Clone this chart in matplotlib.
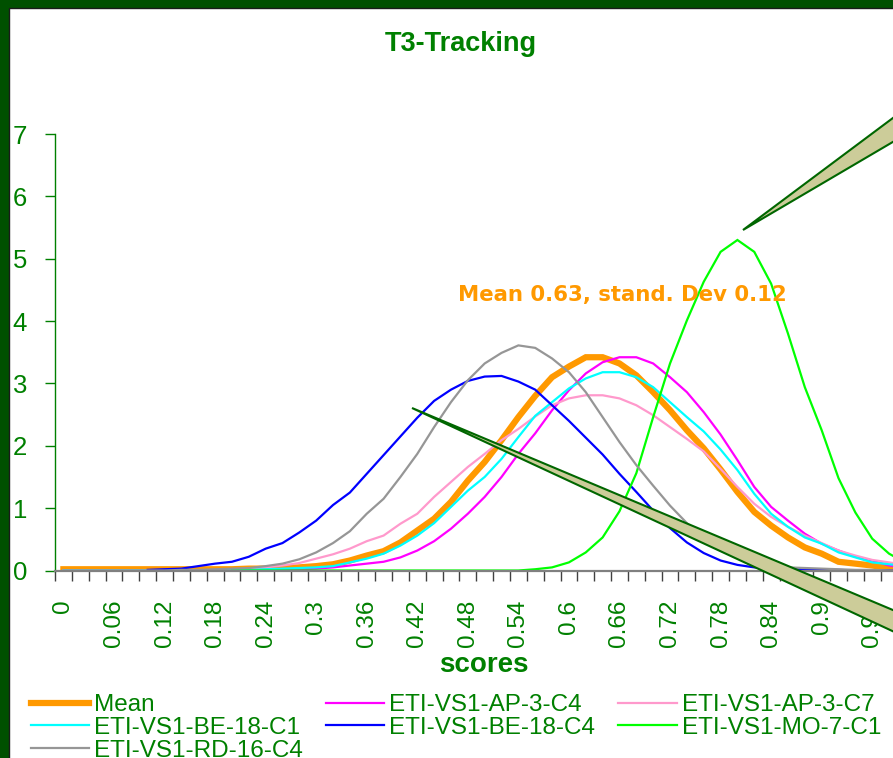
import numpy as np
import matplotlib
matplotlib.use('Agg')
import matplotlib.pyplot as plt
from matplotlib.patches import Rectangle, Polygon

plt.rcParams['font.family'] = ['Liberation Sans', 'DejaVu Sans']

W, H = 893, 758
GREEN_TXT = '#008000'

## score categories 0.00 .. 1.00 in steps of 0.02
scores = [round(0.02 * k, 2) for k in range(51)]
nan = np.nan

mean_vals = [0.02, 0.02, 0.02, 0.02, 0.02, 0.02, 0.02, 0.02, 0.02, 0.02,
             0.02, 0.03, 0.03, 0.04, 0.05, 0.07, 0.10, 0.16, 0.24, 0.31,
             0.45, 0.64, 0.83, 1.10, 1.44, 1.74, 2.09, 2.46, 2.80, 3.10,
             3.27, 3.42, 3.42, 3.32, 3.13, 2.86, 2.57, 2.25, 1.96, 1.62,
             1.26, 0.94, 0.72, 0.53, 0.37, 0.27, 0.14, 0.11, 0.08, 0.04, 0.02]
ap3c4 = [0.0, 0.0, 0.0, 0.0, 0.0, 0.0, 0.0, 0.0, 0.0, 0.0,
         0.0, 0.01, 0.01, 0.02, 0.02, 0.03, 0.05, 0.08, 0.11, 0.14,
         0.21, 0.32, 0.47, 0.67, 0.91, 1.18, 1.50, 1.87, 2.20, 2.57,
         2.89, 3.16, 3.34, 3.42, 3.42, 3.32, 3.10, 2.86, 2.54, 2.18,
         1.77, 1.34, 1.02, 0.80, 0.59, 0.43, 0.32, 0.22, 0.16, 0.08, 0.05]
ap3c7 = [0.0, 0.0, 0.0, 0.0, 0.0, 0.0, 0.0, 0.0, 0.0, 0.0,
         0.02, 0.03, 0.05, 0.08, 0.12, 0.19, 0.26, 0.35, 0.47, 0.56,
         0.75, 0.91, 1.18, 1.42, 1.66, 1.87, 2.09, 2.27, 2.47, 2.65,
         2.76, 2.81, 2.81, 2.76, 2.65, 2.49, 2.30, 2.11, 1.91, 1.63,
         1.34, 1.07, 0.86, 0.70, 0.56, 0.44, 0.32, 0.24, 0.17, 0.13, 0.09]
be18c1 = [0.0, 0.0, 0.0, 0.0, 0.0, 0.0, 0.0, 0.0, 0.0, 0.0,
          0.01, 0.01, 0.02, 0.03, 0.04, 0.05, 0.07, 0.13, 0.19, 0.27,
          0.40, 0.56, 0.76, 1.02, 1.28, 1.50, 1.79, 2.14, 2.48, 2.70,
          2.92, 3.08, 3.18, 3.18, 3.10, 2.94, 2.70, 2.46, 2.23, 1.94,
          1.61, 1.23, 0.91, 0.70, 0.53, 0.43, 0.29, 0.21, 0.13, 0.10, 0.07]
be18c4 = [nan, nan, nan, nan, nan, 0.01, 0.02, 0.03, 0.07, 0.11,
          0.14, 0.22, 0.35, 0.44, 0.61, 0.80, 1.05, 1.25, 1.55, 1.85,
          2.15, 2.45, 2.72, 2.90, 3.04, 3.11, 3.12, 3.03, 2.90, 2.65,
          2.40, 2.13, 1.86, 1.55, 1.26, 0.96, 0.68, 0.45, 0.28, 0.16,
          0.09, 0.05, 0.04, 0.03, 0.02, 0.01, 0.01, 0.0, 0.0, 0.0, 0.0]
mo7c1 = [nan, nan, nan, nan, nan, nan, nan, nan, nan, nan,
         0.0, 0.0, 0.0, 0.0, 0.0, 0.0, 0.0, 0.0, 0.0, 0.0,
         0.0, 0.0, 0.0, 0.0, 0.0, 0.0, 0.0, 0.0, 0.02, 0.05,
         0.13, 0.29, 0.53, 0.95, 1.56, 2.46, 3.32, 4.01, 4.63, 5.11,
         5.30, 5.11, 4.60, 3.80, 2.94, 2.25, 1.48, 0.93, 0.51, 0.27, 0.12]
rd16c4 = [0.0, 0.0, 0.0, 0.0, 0.0, 0.0, 0.0, 0.01, 0.01, 0.02,
          0.03, 0.04, 0.07, 0.11, 0.18, 0.29, 0.44, 0.63, 0.91, 1.15,
          1.50, 1.87, 2.30, 2.70, 3.05, 3.32, 3.49, 3.61, 3.57, 3.40,
          3.18, 2.86, 2.46, 2.06, 1.69, 1.36, 1.04, 0.76, 0.50, 0.32,
          0.20, 0.12, 0.07, 0.05, 0.04, 0.03, 0.02, 0.01, 0.01, 0.0, 0.0]

series = [
    ('Mean', mean_vals, '#FF9900', 4.5),
    ('ETI-VS1-AP-3-C4', ap3c4, '#FF00FF', 1.6),
    ('ETI-VS1-AP-3-C7', ap3c7, '#FF99CC', 1.6),
    ('ETI-VS1-BE-18-C1', be18c1, '#00FFFF', 1.6),
    ('ETI-VS1-BE-18-C4', be18c4, '#0000FF', 1.6),
    ('ETI-VS1-MO-7-C1', mo7c1, '#00FF00', 1.6),
    ('ETI-VS1-RD-16-C4', rd16c4, '#969696', 1.6),
]

fig = plt.figure(figsize=(W / 100, H / 100), dpi=100, facecolor='#005000')

# white panel inside the dark green frame
fig.add_artist(Rectangle((9 / W, -0.1), 1.2, 1 - 8 / H + 0.1, transform=fig.transFigure,
                         facecolor='white', edgecolor='#1a1a1a', lw=1, zorder=-10))

step = 16.85
ax = fig.add_axes([55 / W, 1 - 570.5 / H, 51 * step / W, (570.5 - 134) / H])
ax.set_facecolor('white')

x = np.arange(len(scores))
lines = {}
for name, vals, col, lw in series:
    ln, = ax.plot(x, vals, color=col, lw=lw, solid_joinstyle='miter')
    lines[name] = ln

ax.set_xlim(-0.5, len(scores) - 0.5)
ax.set_ylim(0, 7)

for s in ['top', 'right']:
    ax.spines[s].set_visible(False)
ax.spines['bottom'].set_color('#808080')
ax.spines['bottom'].set_linewidth(1.6)
ax.spines['left'].set_color(GREEN_TXT)
ax.spines['left'].set_linewidth(1)

ax.set_xticks(x[::3])
ax.set_xticklabels([f'{v:g}' for v in scores[::3]])
ax.set_xticks(np.arange(-0.5, len(scores), 1), minor=True)
ax.tick_params(axis='x', which='major', length=0, pad=21, labelrotation=90,
               labelsize=17.5, labelcolor=GREEN_TXT)
ax.tick_params(axis='x', which='minor', length=7, width=1, color='#404040')
ax.set_yticks(range(8))
ax.tick_params(axis='y', length=7, width=1, color=GREEN_TXT, pad=13,
               labelsize=18.5, labelcolor=GREEN_TXT)

fig.text(461 / W, 1 - 44 / H, 'T3-Tracking', ha='center', va='center',
         fontsize=19.5, fontweight='bold', color=GREEN_TXT)
fig.text(484 / W, 1 - 665 / H, 'scores', ha='center', va='center',
         fontsize=20, fontweight='bold', color=GREEN_TXT)
fig.text(622 / W, 1 - 295 / H, 'Mean 0.63, stand. Dev 0.12', ha='center', va='center',
         fontsize=15.3, fontweight='bold', color='#FF9900', family='DejaVu Sans')

# callout pointers coming from boxes outside the visible area
def px(pts):
    return [(a / W, 1 - b / H) for a, b in pts]

fig.add_artist(Polygon(px([(743, 230), (1000, 38), (1000, 79)]), closed=True,
                       transform=fig.transFigure, facecolor='#CCCC99',
                       edgecolor='#006600', lw=1.5, zorder=5))
fig.add_artist(Polygon(px([(412, 408), (1000, 655), (1000, 681)]), closed=True,
                       transform=fig.transFigure, facecolor='#CCCC99',
                       edgecolor='#006600', lw=1.5, zorder=5))

order = ['Mean', 'ETI-VS1-BE-18-C1', 'ETI-VS1-RD-16-C4', 'ETI-VS1-AP-3-C4',
         'ETI-VS1-BE-18-C4', 'ETI-VS1-AP-3-C7', 'ETI-VS1-MO-7-C1']
fig.legend([lines[n] for n in order], order, loc='upper left',
           bbox_to_anchor=(31 / W, 1 - 694 / H), ncol=3, frameon=False,
           fontsize=17.5, labelcolor=GREEN_TXT, handlelength=2.4,
           handletextpad=0.2, columnspacing=0.95, labelspacing=0.04,
           borderpad=0, borderaxespad=0)

fig.savefig('out.png', dpi=100, facecolor=fig.get_facecolor())
